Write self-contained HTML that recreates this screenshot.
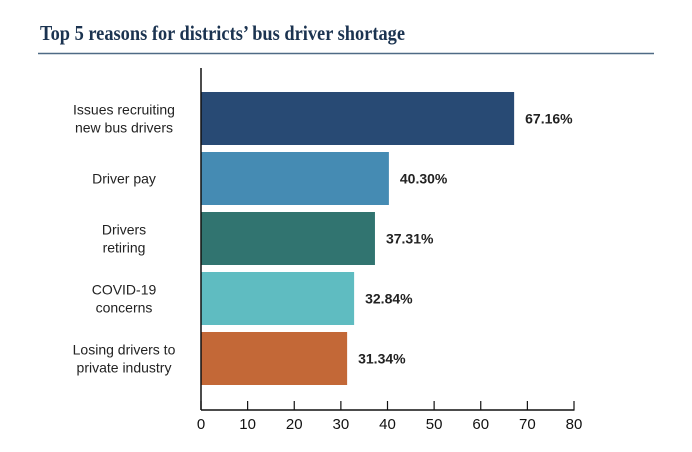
<!DOCTYPE html>
<html><head><meta charset="utf-8"><style>
html,body{margin:0;padding:0;background:#fff;}
svg{display:block;font-family:"Liberation Sans",sans-serif;}
</style></head><body>
<svg id="c" width="692" height="452">
<text x="40" y="40" font-family="Liberation Serif" font-weight="bold" font-size="21" fill="#1b3350" textLength="365" lengthAdjust="spacingAndGlyphs">Top 5 reasons for districts’ bus driver shortage</text>
<line x1="38" y1="53.5" x2="654" y2="53.5" stroke="#4f6a85" stroke-width="1.5"/>
<g id="bars"></g>
<g id="axis"></g>
</svg>
<script>
const categories=[["Issues recruiting","new bus drivers"],["Driver pay"],["Drivers","retiring"],["COVID-19","concerns"],["Losing drivers to","private industry"]];
const values=[67.16,40.30,37.31,32.84,31.34];
const colors=["#284a74","#458bb3","#317470","#5fbcc1","#c36837"];
const ticks=[0,10,20,30,40,50,60,70,80];
const NS="http://www.w3.org/2000/svg";
const x0=201,x1=574,xmax=80;
const xs=v=>x0+(v/xmax)*(x1-x0);
const yTop=92,step=60,bh=53;
function mk(t,a,p){const e=document.createElementNS(NS,t);for(const k in a)e.setAttribute(k,a[k]);p.appendChild(e);return e;}
const bars=document.getElementById('bars'),axis=document.getElementById('axis');
values.forEach((v,i)=>{
 const y=yTop+i*step;
 const r=mk('rect',{x:x0,y:y,width:xs(v)-x0,height:bh,fill:colors[i]},bars);
 
 
 const t=mk('text',{x:xs(v)+11,y:y+bh/2+5,'font-size':14,'font-weight':'bold',fill:'#222'},bars);
 t.textContent=v.toFixed(2)+'%';
 
 
 const lines=categories[i];
 const g=mk('text',{'text-anchor':'middle','font-size':14,fill:'#222'},bars);
 
 
 lines.forEach((l,j)=>{const ts=mk('tspan',{x:124,y:y+bh/2+5+(j-(lines.length-1)/2)*18},g);ts.textContent=l;});
});
const yl=mk('line',{x1:x0,y1:68,x2:x0,y2:410,stroke:'#111','stroke-width':1.5},axis);


const xl=mk('line',{x1:x0,y1:410,x2:x1+0.5,y2:410,stroke:'#111','stroke-width':1.5},axis);


ticks.forEach(tv=>{
 const x=xs(tv);
 const l=mk('line',{x1:x,y1:401,x2:x,y2:410,stroke:'#111','stroke-width':1.2},axis);
 
 
 const t=mk('text',{x:x,y:429,'text-anchor':'middle','font-size':15,fill:'#111'},axis);
 t.textContent=tv;
 
 
});
</script>
</body></html>
